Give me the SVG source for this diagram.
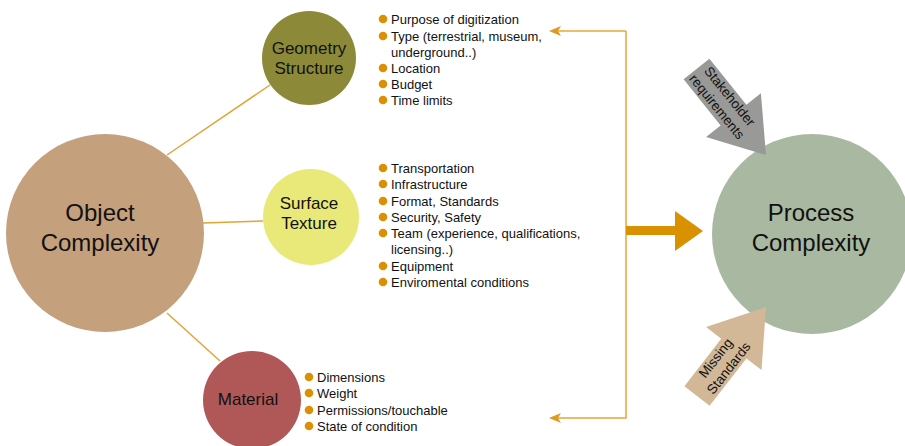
<svg xmlns="http://www.w3.org/2000/svg" width="905" height="446" viewBox="0 0 905 446">
<style>
.lbl{font-family:"Liberation Sans",Arial,sans-serif;fill:#111;text-anchor:middle}
.big{font-size:24px}
.mid{font-size:17px}
.li{font-family:"Liberation Sans",Arial,sans-serif;font-size:13px;fill:#111}
.dot{fill:#DA9000}
.conn{stroke:#E2A433;stroke-width:1.5;fill:none}
.brk{stroke:#E8A63A;stroke-width:1.5;fill:none}
.arr{font-family:"Liberation Sans",Arial,sans-serif;font-size:13.5px;fill:#111;text-anchor:middle}
</style>
<rect width="905" height="446" fill="#fff"/>
<g id="connectors">
<line class="conn" x1="167" y1="155" x2="270" y2="85"/>
<line class="conn" x1="203" y1="223" x2="263" y2="221"/>
<line class="conn" x1="167" y1="313" x2="220" y2="361"/>
<polyline class="brk" points="626,31 556,31"/>
<polyline class="brk" points="626,31 626,418 556,418"/>
<path d="M549,31 L561,26 L558,31 L561,36 Z" fill="#E09A20"/>
<path d="M549,418 L561,413 L558,418 L561,423 Z" fill="#E09A20"/>
<rect x="626" y="226" width="50" height="9" fill="#D99100"/>
<polygon points="675,211 703,231 675,251" fill="#D99100"/>
</g>
<g id="object-complexity">
<circle cx="105" cy="233" r="99" fill="#C4A07C"/>
<text class="lbl big" x="100" y="221">Object</text>
<text class="lbl big" x="100" y="251">Complexity</text>
</g>
<g id="geometry-structure">
<circle cx="309" cy="58" r="47" fill="#8C8A38"/>
<text class="lbl mid" x="309" y="54">Geometry</text>
<text class="lbl mid" x="309" y="74">Structure</text>
</g>
<g id="surface-texture">
<circle cx="311" cy="217" r="48" fill="#E9E97A"/>
<text class="lbl mid" x="309" y="209">Surface</text>
<text class="lbl mid" x="309" y="229">Texture</text>
</g>
<g id="material">
<circle cx="252" cy="400" r="49" fill="#B05858"/>
<text class="lbl mid" x="248" y="405">Material</text>
</g>
<g id="process-complexity">
<circle cx="812" cy="234" r="100" fill="#A9B8A0"/>
<text class="lbl big" x="811" y="221">Process</text>
<text class="lbl big" x="811" y="251">Complexity</text>
</g>
<g id="geometry-list">
<circle class="dot" cx="383" cy="19" r="4.3"/><text class="li" x="391" y="24">Purpose of digitization</text>
<circle class="dot" cx="383" cy="36" r="4.3"/><text class="li" x="391" y="41">Type (terrestrial, museum,</text>
<text class="li" x="391" y="57">underground..)</text>
<circle class="dot" cx="383" cy="68" r="4.3"/><text class="li" x="391" y="73">Location</text>
<circle class="dot" cx="383" cy="84" r="4.3"/><text class="li" x="391" y="89">Budget</text>
<circle class="dot" cx="383" cy="100" r="4.3"/><text class="li" x="391" y="105">Time limits</text>
</g>
<g id="surface-list">
<circle class="dot" cx="383" cy="168" r="4.3"/><text class="li" x="391" y="173">Transportation</text>
<circle class="dot" cx="383" cy="184" r="4.3"/><text class="li" x="391" y="189">Infrastructure</text>
<circle class="dot" cx="383" cy="201" r="4.3"/><text class="li" x="391" y="206">Format, Standards</text>
<circle class="dot" cx="383" cy="217" r="4.3"/><text class="li" x="391" y="222">Security, Safety</text>
<circle class="dot" cx="383" cy="233" r="4.3"/><text class="li" x="391" y="238">Team (experience, qualifications,</text>
<text class="li" x="391" y="254">licensing..)</text>
<circle class="dot" cx="383" cy="266" r="4.3"/><text class="li" x="391" y="271">Equipment</text>
<circle class="dot" cx="383" cy="282" r="4.3"/><text class="li" x="391" y="287">Enviromental conditions</text>
</g>
<g id="material-list">
<circle class="dot" cx="309" cy="377" r="4.3"/><text class="li" x="317" y="382">Dimensions</text>
<circle class="dot" cx="309" cy="393" r="4.3"/><text class="li" x="317" y="398">Weight</text>
<circle class="dot" cx="309" cy="410" r="4.3"/><text class="li" x="317" y="415">Permissions/touchable</text>
<circle class="dot" cx="309" cy="426" r="4.3"/><text class="li" x="317" y="431">State of condition</text>
</g>
<g id="stakeholder-arrow">
<polygon points="683.6,79.3 709.4,58.7 746.4,104.8 760.9,93.2 766,155 706.1,137 720.6,125.4" fill="#999997"/>
<g transform="translate(723.5,101.5) rotate(51)">
<text class="arr" x="0" y="-3.5">Stakeholder</text>
<text class="arr" x="0" y="13">requirements</text>
</g>
</g>
<g id="missing-standards-arrow">
<polygon points="684.4,386.2 721.2,338.8 706.1,327.1 766,307 761.5,370.1 746.4,358.4 709.6,405.8" fill="#D2B896"/>
<g transform="translate(722,363) rotate(-52)">
<text class="arr" x="0" y="-3.5">Missing</text>
<text class="arr" x="0" y="13">Standards</text>
</g>
</g>
</svg>
